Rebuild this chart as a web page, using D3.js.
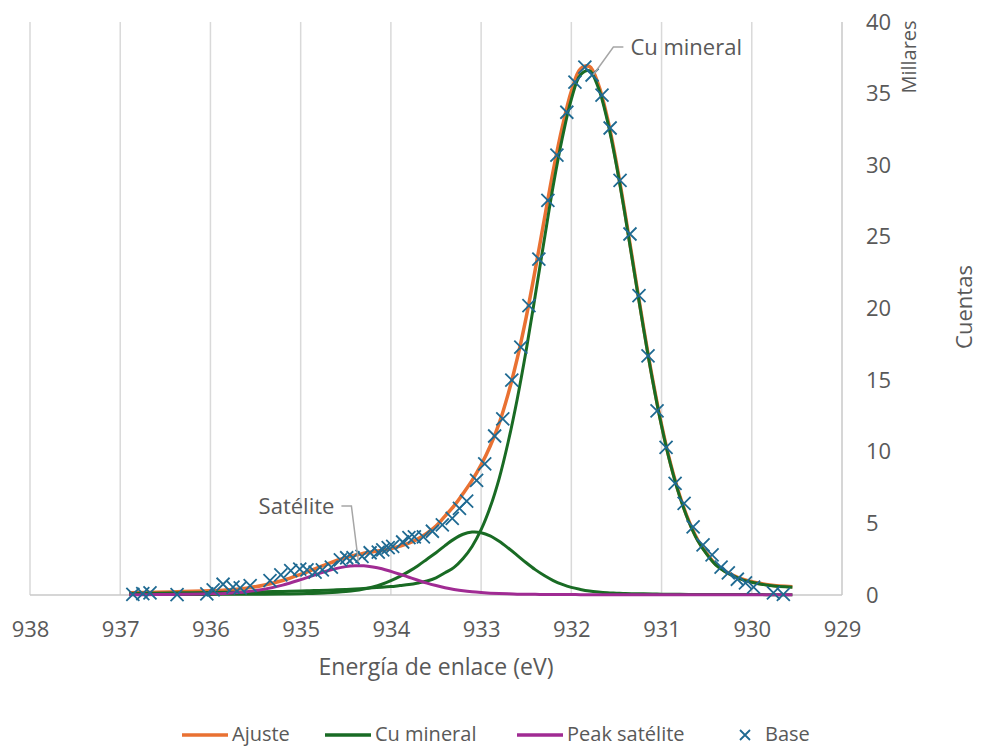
<!DOCTYPE html>
<html>
<head>
<meta charset="utf-8">
<script src="https://cdn.jsdelivr.net/npm/d3@7"></script>
<style>
body { margin: 0; background: #fff; }
text { font-family: "Open Sans", sans-serif; fill: #595959; }
</style>
</head>
<body>
<div id="chart"></div>
<script>
// energía de enlace (eV) de las curvas del ajuste
var energy = [936.9, 936.6, 936.3, 936.0, 935.8, 935.6, 935.4, 935.2,
  935.0, 934.9, 934.8, 934.7, 934.6, 934.5, 934.4, 934.3, 934.2, 934.1,
  934.0, 933.9, 933.8, 933.7, 933.6, 933.5, 933.4, 933.3, 933.2, 933.1,
  933.0, 932.9, 932.8, 932.7, 932.6, 932.5, 932.4, 932.3, 932.2, 932.1,
  932.0, 931.9, 931.8, 931.7, 931.6, 931.5, 931.4, 931.3, 931.2, 931.1,
  931.0, 930.9, 930.8, 930.7, 930.6, 930.5, 930.4, 930.3, 930.2, 930.1,
  930.0, 929.8, 929.55];

var ajuste = [160, 190, 240, 290, 370, 480, 700, 1010,
  1440, 1680, 1930, 2180, 2410, 2610, 2770, 2920, 3020, 3120,
  3240, 3410, 3620, 3920, 4310, 4810, 5510, 6220, 7080, 8000,
  9080, 10380, 11980, 14040, 16500, 19400, 22715, 26200, 29645, 32670,
  35160, 36715, 36900, 35630, 33280, 30150, 26470, 22555, 18695, 15085,
  11875, 9160, 6960, 5200, 3850, 2900, 2140, 1680, 1350, 1100,
  930, 695, 570];

var cuMineral = [110, 130, 150, 170, 190, 200, 230, 250,
  280, 300, 320, 340, 360, 390, 420, 460, 500, 540,
  590, 660, 730, 840, 980, 1200, 1550, 1930, 2550, 3390,
  4560, 6120, 8130, 10680, 13670, 17100, 20900, 24800, 28600, 31900,
  34600, 36300, 36600, 35400, 33100, 30000, 26350, 22450, 18600, 15000,
  11800, 9100, 6900, 5150, 3800, 2850, 2100, 1640, 1310, 1060,
  890, 660, 540];

// segunda componente del Cu mineral (mismo color)
var cuMineral2 = [30, 30, 40, 40, 50, 50, 60, 70,
  90, 100, 120, 150, 190, 240, 310, 420, 560, 750,
  1000, 1300, 1650, 2050, 2500, 2950, 3450, 3900, 4240, 4390,
  4350, 4130, 3750, 3280, 2770, 2250, 1770, 1360, 1010, 740,
  530, 390, 280, 210, 160, 130, 100, 90, 80, 70,
  60, 50, 50, 40, 40, 40, 30, 30, 30, 30,
  30, 25, 20];

var peakSatelite = [20, 30, 50, 80, 130, 230, 410, 690,
  1070, 1280, 1490, 1690, 1860, 1980, 2040, 2040, 1960, 1830,
  1650, 1450, 1240, 1030, 830, 660, 510, 390, 290, 220,
  170, 130, 100, 80, 60, 50, 45, 40, 35, 30,
  30, 25, 20, 20, 20, 20, 20, 15, 15, 15,
  15, 10, 10, 10, 10, 10, 10, 10, 10, 10,
  10, 10, 10];

// puntos medidos (Base)
var baseEnergy = [936.86, 936.75, 936.67, 936.37, 936.04, 935.97, 935.86, 935.75, 935.67, 935.56,
  935.34, 935.22, 935.11, 935.01, 934.93, 934.84, 934.76, 934.66, 934.56, 934.49,
  934.42, 934.32, 934.23, 934.14, 934.09, 934.03, 933.98, 933.87, 933.80, 933.74,
  933.64, 933.54, 933.43, 933.32, 933.24, 933.16, 933.05, 932.96, 932.85, 932.76,
  932.66, 932.56, 932.47, 932.36, 932.26, 932.16, 932.05, 931.96, 931.85, 931.77,
  931.66, 931.57, 931.46, 931.35, 931.25, 931.15, 931.05, 930.95, 930.85, 930.75,
  930.65, 930.54, 930.44, 930.34, 930.26, 930.16, 930.07, 929.98, 929.76, 929.65];
var baseCounts = [50, 100, 150, 30, 80, 350, 750, 550, 500, 650,
  1000, 1400, 1700, 1800, 1750, 1600, 1750, 1950, 2450, 2600,
  2600, 2700, 2950, 3000, 3150, 3300, 3400, 3700, 4000, 4050,
  4050, 4450, 4900, 5350, 6050, 6550, 8000, 9150, 11100, 12300,
  15000, 17300, 20200, 23450, 27550, 30700, 33700, 35800, 36850, 36300,
  34900, 32600, 28950, 25200, 20900, 16700, 12850, 10300, 7800, 6400,
  4750, 3500, 2800, 1950, 1550, 1100, 850, 550, 150, 50];

var xTicks = [938, 937, 936, 935, 934, 933, 932, 931, 930, 929];
var yTicks = [0, 5000, 10000, 15000, 20000, 25000, 30000, 35000, 40000];

var width = 981;
var height = 748;

var svg = d3.select("#chart").append("svg").attr("width", width).attr("height", height);

var x = d3.scaleLinear().domain([938, 929]).range([30, 842]);
var y = d3.scaleLinear().domain([0, 40000]).range([595, 22]);

var c_orange = "#E97132";
var c_green = "#196B24";
var c_purple = "#A02B93";
var c_blue = "#1F6A92";

// rejilla vertical
svg.append("g").selectAll("line").data(xTicks.slice(0, -1)).enter().append("line")
  .attr("x1", function(d) { return x(d); }).attr("x2", function(d) { return x(d); })
  .attr("y1", y(40000)).attr("y2", y(0))
  .attr("stroke", "#d9d9d9").attr("stroke-width", 1.5);

// eje horizontal y eje vertical (derecha)
svg.append("line").attr("x1", x(938)).attr("x2", x(929)).attr("y1", y(0)).attr("y2", y(0))
  .attr("stroke", "#c8c8c8").attr("stroke-width", 1.5);
svg.append("line").attr("x1", x(929)).attr("x2", x(929)).attr("y1", y(40000)).attr("y2", y(0))
  .attr("stroke", "#c8c8c8").attr("stroke-width", 1.5);

var xAxis = svg.append("g").attr("transform", "translate(0," + y(0) + ")")
  .call(d3.axisBottom(x).tickValues(xTicks).tickSize(0).tickPadding(26).tickFormat(d3.format("d")));
xAxis.select(".domain").remove();
xAxis.selectAll("text").attr("font-size", 22).attr("fill", "#595959").style("font-family", "Open Sans");

var yAxis = svg.append("g").attr("transform", "translate(" + x(929) + ",0)")
  .call(d3.axisRight(y).tickValues(yTicks).tickSize(0).tickPadding(24)
    .tickFormat(function(d) { return d / 1000; }));
yAxis.select(".domain").remove();
yAxis.selectAll("text").attr("font-size", 22).attr("fill", "#595959").style("font-family", "Open Sans");

// títulos
svg.append("text").attr("x", 436).attr("y", 675).attr("text-anchor", "middle")
  .attr("font-size", 23).text("Energía de enlace (eV)");
svg.append("text").attr("transform", "translate(972,307) rotate(-90)").attr("text-anchor", "middle")
  .attr("font-size", 22).text("Cuentas");
svg.append("text").attr("transform", "translate(916,57) rotate(-90)").attr("text-anchor", "middle")
  .attr("font-size", 20).text("Millares");

// curvas
var line = function(vals) {
  return d3.line()
    .x(function(d, i) { return x(energy[i]); })
    .y(function(d) { return y(d); })
    .curve(d3.curveCatmullRom.alpha(0.5))(vals);
};

svg.append("path").attr("d", line(ajuste)).attr("fill", "none")
  .attr("stroke", c_orange).attr("stroke-width", 3.5);
svg.append("path").attr("d", line(cuMineral)).attr("fill", "none")
  .attr("stroke", c_green).attr("stroke-width", 3);
svg.append("path").attr("d", line(cuMineral2)).attr("fill", "none")
  .attr("stroke", c_green).attr("stroke-width", 3);
svg.append("path").attr("d", line(peakSatelite)).attr("fill", "none")
  .attr("stroke", c_purple).attr("stroke-width", 3);

// marcadores x
var ms = 6.5;
svg.append("g").selectAll("path").data(baseEnergy).enter().append("path")
  .attr("d", function(d, i) {
    var px = x(d), py = y(baseCounts[i]);
    return "M" + (px - ms) + "," + (py - ms) + "L" + (px + ms) + "," + (py + ms) +
      "M" + (px - ms) + "," + (py + ms) + "L" + (px + ms) + "," + (py - ms);
  })
  .attr("stroke", c_blue).attr("stroke-width", 1.8).attr("fill", "none");

// etiquetas de datos
var cuX = x(931.8), cuY = y(36600);
svg.append("polyline")
  .attr("points", [[cuX + 4, cuY + 4], [cuX + 24, 47], [cuX + 34, 47]].join(" "))
  .attr("fill", "none").attr("stroke", "#a6a6a6").attr("stroke-width", 1.5);
svg.append("text").attr("x", cuX + 41).attr("y", 55).attr("font-size", 22).text("Cu mineral");

var satX = x(934.36), satY = y(2040);
svg.append("polyline")
  .attr("points", [[satX, satY - 4], [satX - 7, 506], [satX - 17, 506]].join(" "))
  .attr("fill", "none").attr("stroke", "#a6a6a6").attr("stroke-width", 1.5);
svg.append("text").attr("x", satX - 24).attr("y", 514).attr("text-anchor", "end")
  .attr("font-size", 22).text("Satélite");

// leyenda
var legend = [
  { name: "Ajuste", color: c_orange, x: 182 },
  { name: "Cu mineral", color: c_green, x: 325 },
  { name: "Peak satélite", color: c_purple, x: 517 }
];
var lg = svg.append("g");
legend.forEach(function(d) {
  lg.append("line").attr("x1", d.x).attr("x2", d.x + 46).attr("y1", 735).attr("y2", 735)
    .attr("stroke", d.color).attr("stroke-width", 3.5);
  lg.append("text").attr("x", d.x + 50).attr("y", 741).attr("font-size", 20).text(d.name);
});
lg.append("path").attr("d", "M740,730L750,740M740,740L750,730")
  .attr("stroke", c_blue).attr("stroke-width", 1.8);
lg.append("text").attr("x", 765).attr("y", 741).attr("font-size", 20).text("Base");
</script>
</body>
</html>
